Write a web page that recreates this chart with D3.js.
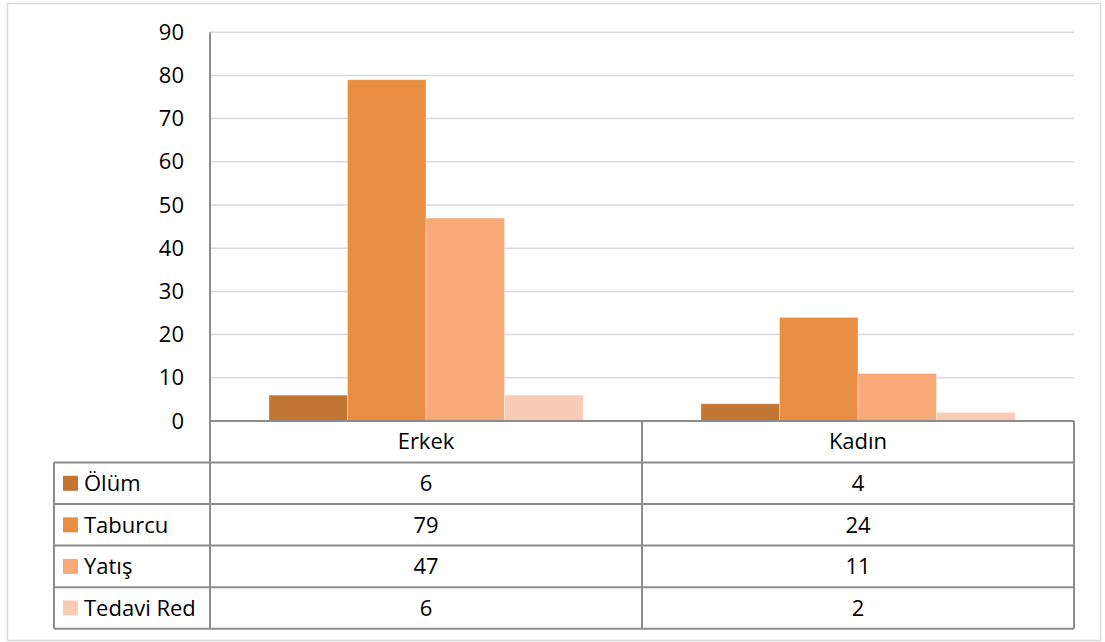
<!DOCTYPE html>
<html>
<head>
<meta charset="utf-8">
<script src="https://cdn.jsdelivr.net/npm/d3@7"></script>
<style>
  html, body { margin: 0; padding: 0; background: #fff; }
  svg { display: block; }
  text { font-family: "Open Sans", "Noto Sans", sans-serif; fill: #000; }
</style>
</head>
<body>
<svg id="chart" width="1105" height="642"></svg>
<script>
// Categories, series and values
const categories = ["Erkek", "Kadın"];
const seriesNames = ["Ölüm", "Taburcu", "Yatış", "Tedavi Red"];
const seriesColors = ["#C37534", "#E78E42", "#F7AA78", "#F9CAB4"];
const olum = [6, 4];
const taburcu = [79, 24];
const yatis = [47, 11];
const tedaviRed = [6, 2];
const yTicks = [0, 10, 20, 30, 40, 50, 60, 70, 80, 90];

const seriesValues = [olum, taburcu, yatis, tedaviRed];

const svg = d3.select("#chart");
const W = 1105, H = 642;

// Layout
const plotLeft = 210, plotRight = 1074;
const plotTop = 32.2, plotBottom = 421;
const tableLeft = 54, tableBottom = 628.7;
const gridColor = "#d9d9d9";
const lineColor = "#8c8c8c";
const fontSize = 22;

// Outer frame
svg.append("rect")
  .attr("x", 7.5).attr("y", 3.5)
  .attr("width", 1093).attr("height", 637)
  .attr("fill", "#fff")
  .attr("stroke", gridColor)
  .attr("stroke-width", 1.5);

// Scales
const x0 = d3.scaleBand().domain(categories).range([plotLeft, plotRight]).padding(0);
const x1 = d3.scaleBand().domain(seriesNames).range([0, x0.bandwidth()])
  .paddingInner(0).paddingOuter(0.75);
const y = d3.scaleLinear().domain([0, 90]).range([plotBottom, plotTop]);

// Gridlines
svg.append("g")
  .selectAll("line")
  .data(yTicks.filter(d => d > 0))
  .join("line")
  .attr("x1", plotLeft).attr("x2", plotRight)
  .attr("y1", d => y(d)).attr("y2", d => y(d))
  .attr("stroke", gridColor)
  .attr("stroke-width", 1.5);

// Y axis labels
const yAxis = d3.axisLeft(y).tickValues(yTicks).tickSize(0).tickPadding(26);
const yAxisG = svg.append("g")
  .attr("transform", `translate(${plotLeft},0)`)
  .call(yAxis);
yAxisG.select(".domain").remove();
yAxisG.selectAll("text")
  .attr("font-size", fontSize)
  .attr("font-family", "'Open Sans', sans-serif")
  .attr("fill", "#000");

// Bars
const rows = categories.map((c, i) => ({
  category: c,
  values: seriesNames.map((s, j) => ({ series: s, value: seriesValues[j][i], color: seriesColors[j] }))
}));

svg.append("g")
  .selectAll("g")
  .data(rows)
  .join("g")
  .attr("transform", d => `translate(${x0(d.category)},0)`)
  .selectAll("rect")
  .data(d => d.values)
  .join("rect")
  .attr("x", d => x1(d.series))
  .attr("width", x1.bandwidth())
  .attr("y", d => y(d.value))
  .attr("height", d => y(0) - y(d.value))
  .attr("fill", d => d.color)
  .attr("stroke", "#ffffff")
  .attr("stroke-opacity", 0.5)
  .attr("stroke-width", 0.8);

// Data table
const rowScale = d3.scaleBand()
  .domain(["__header", ...seriesNames])
  .range([plotBottom, tableBottom]);

const table = svg.append("g");

// Horizontal table lines
const hLines = [plotBottom, ...seriesNames.map(s => rowScale(s)), tableBottom];
table.selectAll("line.h")
  .data(hLines)
  .join("line")
  .attr("class", "h")
  .attr("x1", (d, i) => i === 0 ? plotLeft : tableLeft)
  .attr("x2", plotRight)
  .attr("y1", d => d).attr("y2", d => d)
  .attr("stroke", lineColor)
  .attr("stroke-width", 2);

// Vertical table lines (the one at plotLeft doubles as the value axis)
const vLines = [
  { x: tableLeft, y1: rowScale(seriesNames[0]) },
  { x: plotLeft, y1: plotTop },
  ...categories.slice(1).map(c => ({ x: x0(c), y1: plotBottom })),
  { x: plotRight, y1: plotBottom }
];
table.selectAll("line.v")
  .data(vLines)
  .join("line")
  .attr("class", "v")
  .attr("x1", d => d.x).attr("x2", d => d.x)
  .attr("y1", d => d.y1).attr("y2", tableBottom)
  .attr("stroke", lineColor)
  .attr("stroke-width", 2);

// Category headers
table.selectAll("text.cat")
  .data(categories)
  .join("text")
  .attr("class", "cat")
  .attr("x", d => x0(d) + x0.bandwidth() / 2)
  .attr("y", rowScale("__header") + rowScale.bandwidth() / 2)
  .attr("dy", "0.35em")
  .attr("text-anchor", "middle")
  .attr("font-size", fontSize)
  .text(d => d);

// Legend keys and series names
const legendRows = table.selectAll("g.lr")
  .data(seriesNames.map((s, j) => ({ name: s, color: seriesColors[j], vals: seriesValues[j] })))
  .join("g")
  .attr("class", "lr")
  .attr("transform", d => `translate(0,${rowScale(d.name) + rowScale.bandwidth() / 2})`);

legendRows.append("rect")
  .attr("x", 63).attr("y", -7.5)
  .attr("width", 15).attr("height", 15)
  .attr("fill", d => d.color);

legendRows.append("text")
  .attr("x", 84)
  .attr("dy", "0.35em")
  .attr("font-size", fontSize)
  .text(d => d.name);

// Cell values
legendRows.selectAll("text.val")
  .data(d => d.vals.map((v, i) => ({ v, c: categories[i] })))
  .join("text")
  .attr("class", "val")
  .attr("x", d => x0(d.c) + x0.bandwidth() / 2)
  .attr("dy", "0.35em")
  .attr("text-anchor", "middle")
  .attr("font-size", fontSize)
  .text(d => d.v);
</script>
</body>
</html>
